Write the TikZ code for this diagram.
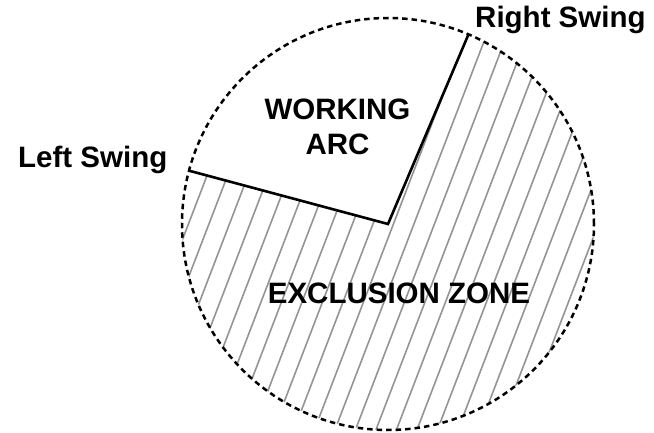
\documentclass[tikz,border=0pt]{standalone}
\usepackage{fontspec}
\setmainfont{Liberation Sans}

\begin{document}
\begin{tikzpicture}[x=1pt,y=1pt,
	swing/.style={line width=2.6pt,line join=miter},
	hatch/.style={black!42,line width=1.6pt},
	zone/.style={dash pattern=on 5.5pt off 4pt,line width=2.5pt},
	lbl/.style={font=\fontsize{29.5}{35}\selectfont\bfseries,inner sep=0pt}]
	\useasboundingbox (0,0) rectangle (654,432);
	\coordinate (c) at (388,208);
	\path (c) ++(67:206) coordinate (rs);
	\path (c) ++(165:206) coordinate (ls);
	% hatched exclusion zone
	\begin{scope}
		\clip (c) -- (ls) arc (165:427:206) -- cycle;
		\foreach \k in {-20,...,25}
			\draw[hatch] ({293.1+20.5*\k},0) -- ++(69:500);
	\end{scope}
	\draw[zone] (c) circle (206);
	\draw[swing] (ls) -- (c) -- (rs);
	\node[lbl,anchor=base west] (left) at (18,265) {Left Swing};
	\node[lbl,anchor=base west] (right) at (475,404) {Right Swing};
	\node[lbl,anchor=base] (working) at (337.5,312) {WORKING};
	\node[lbl,anchor=base] (arc) at (337.5,277) {ARC};
	\node[lbl,anchor=base] (excl) at (399,129) {EXCLUSION ZONE};
\end{tikzpicture}
\end{document}
